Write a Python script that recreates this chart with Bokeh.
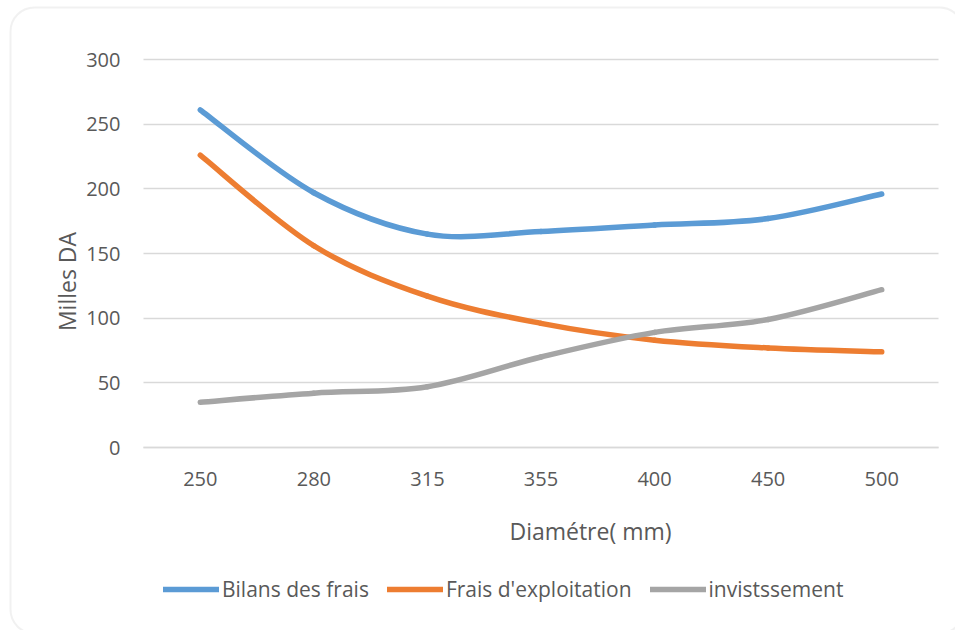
import math

from bokeh.embed import file_html
from bokeh.models import BoxAnnotation, FixedTicker, Label, Legend, LegendItem, Range1d
from bokeh.plotting import figure
from bokeh.resources import INLINE

# Diameters (mm) and costs (thousands DA)
diametres = ["250", "280", "315", "355", "400", "450", "500"]
bilans = [261, 197, 165, 167, 172, 177, 196]
frais_exploitation = [226, 156, 117, 96, 83, 77, 74]
investissement = [35, 42, 47, 70, 89, 99, 122]

y_ticks = [0, 50, 100, 150, 200, 250, 300]

FONT = "Open Sans"
TEXT_COLOR = "#595959"
GRID_COLOR = "#d9d9d9"

# page geometry (pixels): the plotting area sits inside a larger white card
W, H = 955, 630
AREA_LEFT, AREA_RIGHT, AREA_TOP, AREA_BOTTOM = 143, 938, 59, 447
Y_MAX = 300

n = len(diametres)
px_per_cat = (AREA_RIGHT - AREA_LEFT) / n
px_per_unit = (AREA_BOTTOM - AREA_TOP) / Y_MAX
cat_pos = [i + 0.5 for i in range(n)]  # centre of each diameter slot

p = figure(
    width=W, height=H,
    x_range=Range1d(-AREA_LEFT / px_per_cat, n + (W - AREA_RIGHT) / px_per_cat),
    y_range=Range1d(-(H - AREA_BOTTOM) / px_per_unit, Y_MAX + AREA_TOP / px_per_unit),
    output_backend="svg", toolbar_location=None,
    min_border=0,
)
p.outline_line_color = None
p.background_fill_color = "white"
p.border_fill_color = "white"

# axes pinned to the plotting area
p.xaxis.fixed_location = 0
p.yaxis.fixed_location = 0
p.xaxis.ticker = FixedTicker(ticks=cat_pos)
p.xaxis.major_label_overrides = {x: d for x, d in zip(cat_pos, diametres)}
p.xaxis.bounds = (0, n)
p.yaxis.ticker = FixedTicker(ticks=y_ticks)
p.yaxis.bounds = (0, Y_MAX)
for ax in (p.xaxis, p.yaxis):
    ax.major_tick_line_color = None
    ax.minor_tick_line_color = None
    ax.major_tick_out = 0
    ax.major_tick_in = 0
    ax.minor_tick_out = 0
    ax.major_label_text_font = FONT
    ax.major_label_text_font_size = "20px"
    ax.major_label_text_color = TEXT_COLOR
p.yaxis.axis_line_color = None
p.yaxis.major_label_standoff = 23
p.xaxis.axis_line_color = GRID_COLOR
p.xaxis.axis_line_width = 1.3
p.xaxis.major_label_standoff = 24

# horizontal grid only, limited to the plotting area
p.xgrid.grid_line_color = None
p.ygrid.grid_line_color = GRID_COLOR
p.ygrid.grid_line_width = 1.3
p.ygrid.ticker = FixedTicker(ticks=y_ticks)
p.ygrid.cross_bounds = (0, n)


def smooth_segments(values):
    """Bezier segments (Catmull-Rom style control points) through the points."""
    xs = cat_pos
    m = len(values)
    seg = dict(x0=[], y0=[], x1=[], y1=[], cx0=[], cy0=[], cx1=[], cy1=[])
    for i in range(m - 1):
        a = max(i - 1, 0)
        d = min(i + 2, m - 1)
        seg["x0"].append(xs[i]); seg["y0"].append(values[i])
        seg["x1"].append(xs[i + 1]); seg["y1"].append(values[i + 1])
        seg["cx0"].append(xs[i] + (xs[i + 1] - xs[a]) / 6)
        seg["cy0"].append(values[i] + (values[i + 1] - values[a]) / 6)
        seg["cx1"].append(xs[i + 1] - (xs[d] - xs[i]) / 6)
        seg["cy1"].append(values[i + 1] - (values[d] - values[i]) / 6)
    return seg


series = [
    ("Bilans des frais", bilans, "#5B9BD5"),
    ("Frais d'exploitation", frais_exploitation, "#ED7D31"),
    ("invistssement", investissement, "#A5A5A5"),
]

items = []
for name, vals, color in series:
    r = p.bezier(source=smooth_segments(vals), x0="x0", y0="y0", x1="x1", y1="y1",
                 cx0="cx0", cy0="cy0", cx1="cx1", cy1="cy1",
                 line_color=color, line_width=5.5, line_cap="round")
    items.append(LegendItem(label=name, renderers=[r]))

legend = Legend(
    items=items, orientation="horizontal", location=(163, 27),
    glyph_width=56, glyph_height=20, label_standoff=3, spacing=18,
    padding=0, margin=0,
    label_text_font=FONT, label_text_font_size="21px", label_text_color=TEXT_COLOR,
    background_fill_alpha=0, border_line_alpha=0,
)
p.add_layout(legend, "center")

# axis titles
p.add_layout(Label(x=66, y=H - 281, x_units="screen", y_units="screen", text="Milles DA",
                   angle=math.pi / 2, text_align="center", text_baseline="middle",
                   text_font=FONT, text_font_size="23px", text_color=TEXT_COLOR))
p.add_layout(Label(x=590, y=H - 530, x_units="screen", y_units="screen", text="Diamétre( mm)",
                   text_align="center", text_baseline="middle",
                   text_font=FONT, text_font_size="23px", text_color=TEXT_COLOR))

# rounded card border
p.add_layout(BoxAnnotation(left=10, right=W + 8, top=H - 7, bottom=-3,
                           left_units="screen", right_units="screen",
                           top_units="screen", bottom_units="screen",
                           fill_alpha=0, line_color="#d0d0d0", line_width=2,
                           border_radius=24))

open("out.html", "w").write(file_html(p, INLINE))
